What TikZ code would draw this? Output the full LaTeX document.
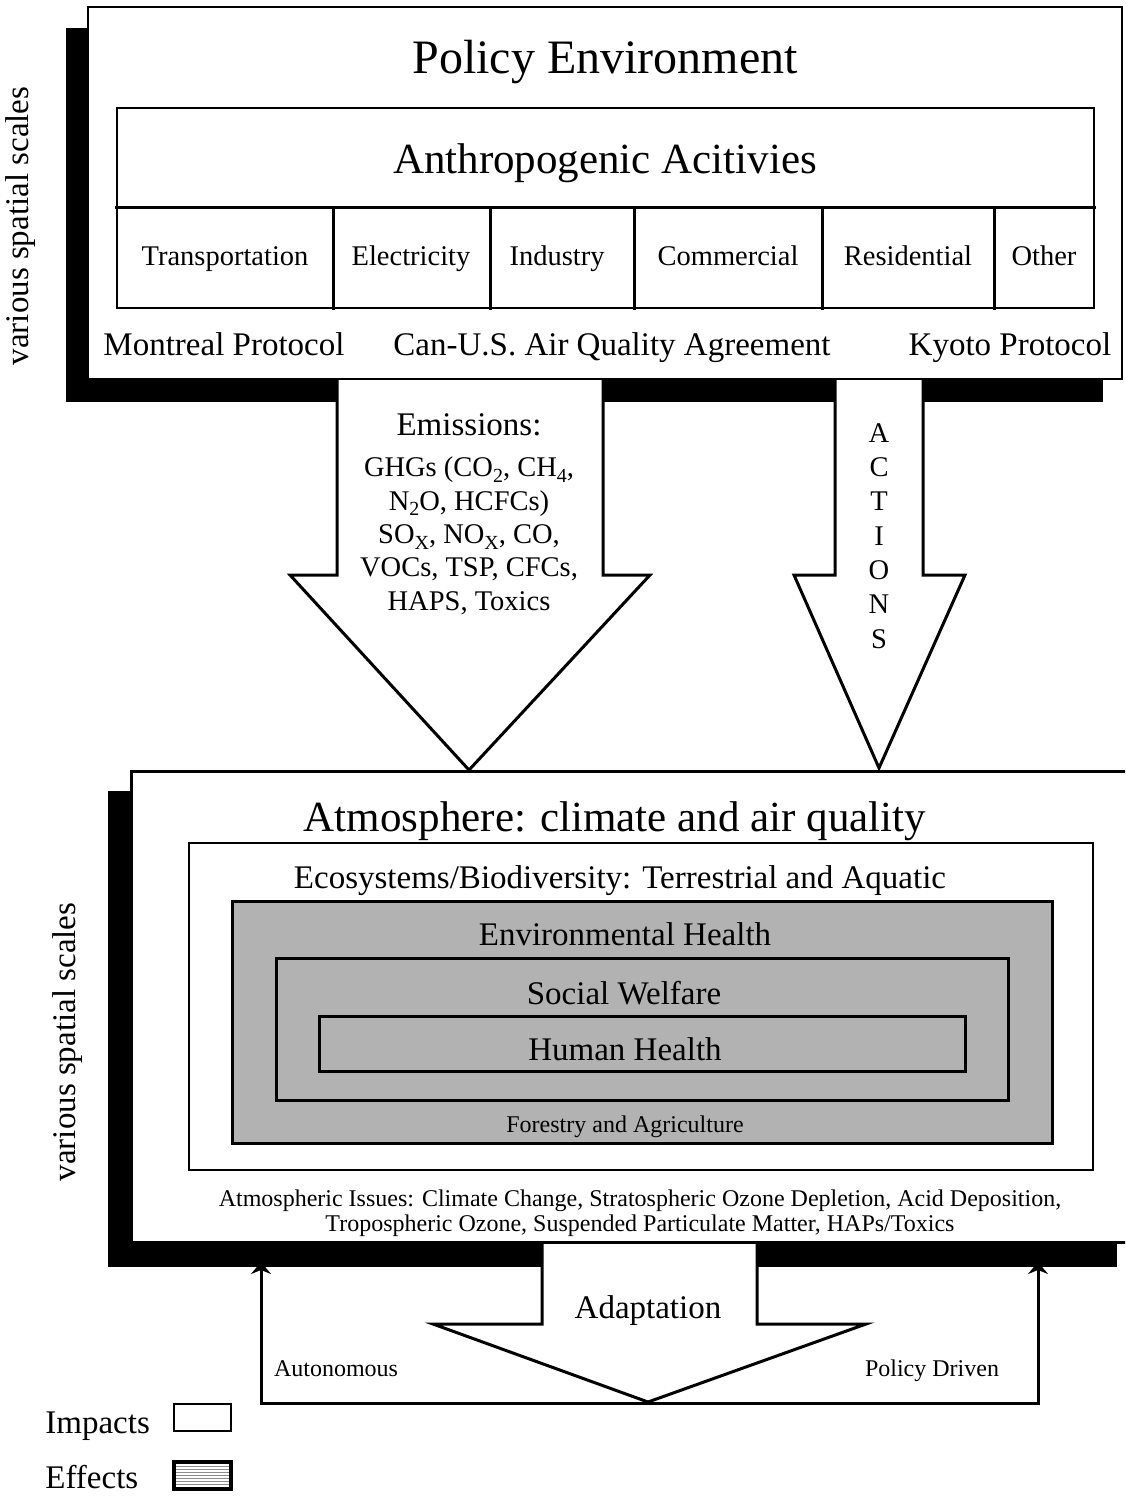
\documentclass[tikz,border=0pt]{standalone}
\usepackage{fontspec}
\setmainfont{Liberation Serif}
\usetikzlibrary{arrows.meta}
\newcommand{\chemsub}[1]{\raisebox{-0.45ex}{\fontsize{10}{10}\selectfont #1}}

\begin{document}
\begin{tikzpicture}[x=0.5pt, y=-0.5pt,
    shadowfill/.style={fill=black},
    panel/.style={draw, fill=white, line width=1pt},
    graypanel/.style={draw, fill=black!30, line width=1.5pt},
    divider/.style={line width=1.5pt},
    bigarrow/.style={draw, fill=white, line width=1.5pt, line join=miter},
    loopline/.style={line width=1.5pt,
      {Stealth[length=6pt,width=10pt,inset=2pt]}-{Stealth[length=6pt,width=10pt,inset=2pt]}},
    fhuge/.style={font=\fontsize{24}{28}\selectfont},
    fbig/.style={font=\fontsize{21.5}{25}\selectfont},
    fmid/.style={font=\fontsize{16.5}{19}\selectfont},
    fsmall/.style={font=\fontsize{14.25}{16.65}\selectfont},
    ftiny/.style={font=\fontsize{12}{12.5}\selectfont}]
  \useasboundingbox (0,0) rectangle (1125,1497);
  \clip (0,0) rectangle (1125,1497);

  % adaptation loop
  \coordinate (AUtop) at (261,1262);
  \coordinate (AUbot) at (261,1403);
  \coordinate (PDbot) at (1038,1403);
  \coordinate (PDtop) at (1038,1262);
  \draw[loopline] (AUtop) -- (AUbot) -- (PDbot) -- (PDtop);

  % shadows
  \fill[shadowfill] (66,28) rectangle (1103,402);
  \fill[shadowfill] (108,791) rectangle (1117,1267);

  % big arrows
  \draw[bigarrow] (337,379) -- (337,575) -- (290,575) -- (469,770) -- (650,575) -- (603,575) -- (603,379);
  \draw[bigarrow] (835,379) -- (835,575) -- (794,575) -- (879,768) -- (965,575) -- (923,575) -- (923,379);
  \draw[bigarrow] (542,1242) -- (542,1324) -- (433,1324) -- (648,1402) -- (866,1324) -- (757,1324) -- (757,1242);

  % policy environment
  \draw[panel] (88,7) rectangle (1122,379);
  \draw[line width=1pt] (117,108) rectangle (1094,308);
  \draw[divider] (115,208) -- (1096,208);
  \draw[divider] (333,208) -- (333,310) (490,208) -- (490,310) (634,208) -- (634,310)
    (822,208) -- (822,310) (994,208) -- (994,310);

  \node[fhuge, anchor=base] (PE) at (605,74) {Policy Environment};
  \node[fbig, anchor=base] (AA) at (605,174) {Anthropogenic Acitivies};
  \node[fsmall, anchor=base] (TR) at (225,266) {Transportation};
  \node[fsmall, anchor=base] (EL) at (411,266) {Electricity};
  \node[fsmall, anchor=base] (IN) at (557,266) {Industry};
  \node[fsmall, anchor=base] (CM) at (728,266) {Commercial};
  \node[fsmall, anchor=base] (RS) at (908,266) {Residential};
  \node[fsmall, anchor=base] (OT) at (1044,266) {Other};
  \node[fmid, anchor=base] (MP) at (224,356) {Montreal Protocol};
  \node[fmid, anchor=base] (CA) at (612,356) {Can-U.S. Air Quality Agreement};
  \node[fmid, anchor=base] (KP) at (1010,356) {Kyoto Protocol};
  \node[fmid, rotate=90] (VS1) at (21,226) {various spatial scales};

  % arrow texts
  \node[fmid, anchor=base] (EM) at (469,436) {Emissions:};
  \node[fsmall, anchor=base, align=center] (EML) at (469,610)
    {GHGs (CO\chemsub{2}, CH\chemsub{4},\\
     N\chemsub{2}O, HCFCs)\\
     SO\chemsub{X}, NO\chemsub{X}, CO,\\
     VOCs, TSP, CFCs,\\
     HAPS, Toxics};
  \node[font=\fontsize{14.25}{17.15}\selectfont, anchor=base, align=center] (ACT) at (879,648)
    {A\\C\\T\\I\\O\\N\\S};

  % atmosphere
  \draw[panel, line width=1.5pt] (131,771) rectangle (1145,1242);
  \draw[panel] (189,843) rectangle (1093,1170);
  \draw[graypanel] (232,901) rectangle (1052,1143);
  \draw[graypanel] (276,958) rectangle (1008,1100);
  \draw[graypanel] (319,1016) rectangle (965,1071);

  \node[fbig, anchor=base] (AT) at (615,831) {Atmosphere: climate and air quality};
  \node[fmid, anchor=base] (ECO) at (620,888) {Ecosystems/Biodiversity: Terrestrial and Aquatic};
  \node[fmid, anchor=base] (EH) at (625,945) {Environmental Health};
  \node[fmid, anchor=base] (SW) at (624,1004) {Social Welfare};
  \node[fmid, anchor=base] (HH) at (625,1060) {Human Health};
  \node[ftiny, anchor=base] (FA) at (625,1132) {Forestry and Agriculture};
  \node[ftiny, anchor=base, align=center] (AI) at (640,1231)
    {Atmospheric Issues: Climate Change, Stratospheric Ozone Depletion, Acid Deposition,\\
     Tropospheric Ozone, Suspended Particulate Matter, HAPs/Toxics};
  \node[fmid, rotate=90] (VS2) at (68,1042) {various spatial scales};

  % adaptation
  \node[fmid, anchor=base] (AD) at (648,1318) {Adaptation};
  \node[ftiny, anchor=base] (AU) at (336,1376) {Autonomous};
  \node[ftiny, anchor=base] (PD) at (932,1376) {Policy Driven};

  % legend
  \node[fmid, anchor=base west, inner sep=0pt] (IM) at (45,1433) {Impacts};
  \node[fmid, anchor=base west, inner sep=0pt] (EF) at (45,1488) {Effects};
  \draw[line width=1pt] (174,1404) rectangle (231,1431);
  \foreach \y in {1466,1469,...,1486}
    \draw[black!45, line width=0.4pt] (176,\y) -- (229,\y);
  \draw[line width=2pt] (174,1462) rectangle (231,1489);
\end{tikzpicture}
\end{document}
